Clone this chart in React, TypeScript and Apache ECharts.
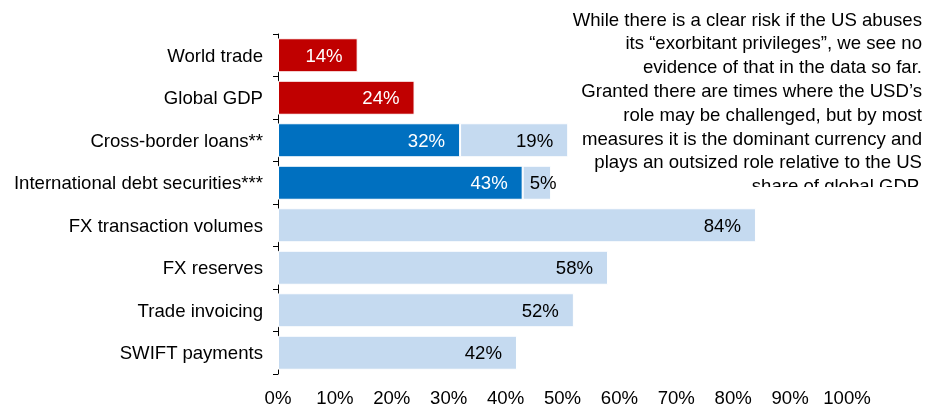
import React, { useEffect, useRef } from "react";
import * as echarts from "echarts";

const categories = [
  "World trade",
  "Global GDP",
  "Cross-border loans**",
  "International debt securities***",
  "FX transaction volumes",
  "FX reserves",
  "Trade invoicing",
  "SWIFT payments",
];
const redValues: (number | null)[] = [14, 24, null, null, null, null, null, null];
const darkBlueValues: (number | null)[] = [null, null, 32, 43, null, null, null, null];
const lightBlueValues: (number | null)[] = [null, null, 19, 5, 84, 58, 52, 42];
const xTicks = [0, 10, 20, 30, 40, 50, 60, 70, 80, 90, 100];
const noteLines = [
  "While there is a clear risk if the US abuses",
  "its \u201cexorbitant privileges\u201d, we see no",
  "evidence of that in the data so far.",
  "Granted there are times where the USD\u2019s",
  "role may be challenged, but by most",
  "measures it is the dominant currency and",
  "plays an outsized role relative to the US",
  "share of global GDP.",
];

const FONT = "'Liberation Sans', Arial, sans-serif";
const FS = 18.6;

export default function App() {
  const ref = useRef<HTMLDivElement>(null);
  useEffect(() => {
    if (!ref.current) return;
    const chart = echarts.init(ref.current, null, { renderer: "svg" });
    const labelBase = {
      show: true,
      position: "insideRight" as const,
      distance: 15,
      fontSize: FS,
      fontFamily: FONT,
      formatter: (p: any) => `${p.value}%`,
    };
    const mk = (vals: (number | null)[]) =>
      vals.map((v, i) => {
        if (v === null) return "-";
        if (v === 5 && i === 3) {
          return { value: v, label: { position: "insideLeft", distance: 7 } };
        }
        return v;
      });
    chart.setOption({
      animation: false,
      textStyle: { fontFamily: FONT },
      grid: { left: 278, top: 34, width: 569, height: 344, containLabel: false },
      xAxis: {
        type: "value",
        min: xTicks[0],
        max: xTicks[xTicks.length - 1],
        interval: 10,
        axisLine: { show: false },
        axisTick: { show: false },
        splitLine: { show: false },
        axisLabel: {
          color: "#000",
          fontSize: FS,
          fontFamily: FONT,
          margin: 14,
          formatter: (v: number) => `${v}%`,
        },
      },
      yAxis: {
        type: "category",
        data: categories,
        inverse: true,
        axisLine: { show: true, lineStyle: { color: "#000", width: 1 } },
        axisTick: { show: true, length: 5, lineStyle: { color: "#000" } },
        axisLabel: { color: "#000", fontSize: FS, fontFamily: FONT, margin: 15 },
      },
      series: [
        {
          type: "bar",
          stack: "a",
          barWidth: 34,
          data: mk(redValues),
          itemStyle: { color: "#C00000", borderColor: "#fff", borderWidth: 1 },
          label: { ...labelBase, color: "#fff" },
        },
        {
          type: "bar",
          stack: "a",
          barWidth: 34,
          data: mk(darkBlueValues),
          itemStyle: { color: "#0070C0", borderColor: "#fff", borderWidth: 1 },
          label: { ...labelBase, color: "#fff" },
        },
        {
          type: "bar",
          stack: "a",
          barWidth: 34,
          data: mk(lightBlueValues),
          itemStyle: { color: "#C5DAF0", borderColor: "#fff", borderWidth: 1 },
          label: { ...labelBase, color: "#000" },
        },
      ],
      graphic: [
        ...noteLines.map((t, i) => ({
          type: "text",
          right: 938 - 922,
          top: 9.5 + i * 23.8,
          z: 10,
          style: {
            text: t,
            fill: "#000",
            font: `${FS}px ${FONT}`,
            textAlign: "right",
          },
        })),
        {
          type: "rect",
          z: 20,
          shape: { x: 560, y: 187, width: 378, height: 20 },
          style: { fill: "#fff" },
        },
      ],
    });
    return () => chart.dispose();
  }, []);
  return (
    <div
      ref={ref}
      style={{ position: "fixed", left: 0, top: 0, width: 938, height: 407 }}
    />
  );
}
